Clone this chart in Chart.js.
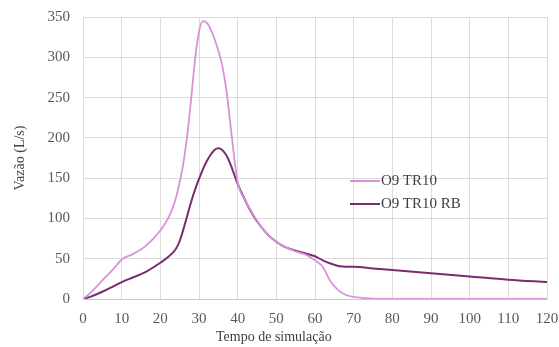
<!DOCTYPE html>
<html lang="pt">
<head>
    <meta charset="UTF-8">
    <title>Vazão - O9 TR10</title>
    <script src="https://cdn.jsdelivr.net/npm/chart.js"></script>
    <style>
        html, body { margin: 0; padding: 0; background: #fff; }
        .wrap { position: relative; width: 559px; height: 347px; font-family: "Liberation Serif", "DejaVu Serif", serif; }
        .legend { position: absolute; left: 350px; top: 169px; font-size: 15px; color: #404040; }
        .legend div { height: 23px; display: flex; align-items: center; }
        .legend span.swatch { display: inline-block; width: 30px; margin-right: 1px; }
        .xtitle { position: absolute; top: 329px; left: 216px; font-size: 14px; color: #404040; }
    </style>
</head>
<body>
    <div class="wrap">
        <canvas id="vazaoChart" width="559" height="347"></canvas>
        <div class="legend">
            <div><span class="swatch" style="border-top:2px solid #d892d8"></span>O9 TR10</div>
            <div><span class="swatch" style="border-top:2px solid #7a2d6e"></span>O9 TR10 RB</div>
        </div>
        <div class="xtitle">Tempo de simulação</div>
    </div>

    <script>
        // time (x) and flow values
        const tempoTR10 = [0, 2, 5, 8, 10, 13, 16, 20, 22, 23, 24, 25, 26, 27, 28, 29, 30, 31, 32, 33, 34, 35, 36, 37, 38, 39, 40, 42, 44, 46, 48, 50, 52, 55, 58, 60, 62, 64, 66, 68, 70, 75, 80, 90, 100, 110, 120];
        const vazaoTR10 = [0, 8, 23, 38, 49, 56, 65, 85, 100, 111, 125, 145, 170, 205, 250, 298, 332, 345, 343, 335, 323, 308, 290, 262, 222, 180, 145, 122, 105, 90, 79, 71, 65, 59, 54, 48, 40, 22, 11, 5, 2.5, 0.5, 0, 0, 0, 0, 0];

        const tempoRB = [0, 2, 5, 8, 10, 13, 16, 20, 22, 24, 25, 26, 27, 28, 29, 30, 31, 32, 33, 34, 35, 36, 37, 38, 39, 40, 42, 44, 46, 48, 50, 52, 55, 58, 60, 62, 64, 66, 68, 70, 75, 80, 90, 100, 110, 120];
        const vazaoRB = [0, 3, 9, 16, 21, 27, 33, 45, 52, 62, 72, 87, 104, 121, 136, 149, 161, 171, 179, 185, 187, 185, 179, 169, 156, 143, 122, 104, 90, 79, 71, 65, 60, 56, 53, 48, 44, 41, 40, 40, 38, 36, 32, 28, 24, 21];

        const xTicks = [0, 10, 20, 30, 40, 50, 60, 70, 80, 90, 100, 110, 120];
        const yTicks = [0, 50, 100, 150, 200, 250, 300, 350];

        function toPoints(xs, ys) {
            return xs.map((x, i) => ({ x: x, y: ys[i] }));
        }

        const tickFont = { family: 'Liberation Serif', size: 15 };
        const titleFont = { family: 'Liberation Serif', size: 14 };

        const ctx = document.getElementById('vazaoChart').getContext('2d');
        new Chart(ctx, {
            type: 'line',
            data: {
                datasets: [
                    {
                        label: 'O9 TR10',
                        data: toPoints(tempoTR10, vazaoTR10),
                        borderColor: '#d892d8',
                        borderWidth: 1.8,
                        pointRadius: 0,
                        cubicInterpolationMode: 'monotone',
                        fill: false
                    },
                    {
                        label: 'O9 TR10 RB',
                        data: toPoints(tempoRB, vazaoRB),
                        borderColor: '#7a2d6e',
                        borderWidth: 2,
                        pointRadius: 0,
                        cubicInterpolationMode: 'monotone',
                        fill: false
                    }
                ]
            },
            options: {
                responsive: false,
                animation: false,
                layout: { padding: { top: 17, right: 12, left: 12, bottom: 0 } },
                plugins: {
                    legend: { display: false },
                    tooltip: { enabled: false }
                },
                scales: {
                    x: {
                        type: 'linear',
                        min: 0,
                        max: 120,
                        afterBuildTicks: (scale) => { scale.ticks = xTicks.map(v => ({ value: v })); },
                        afterFit: (scale) => {
                            scale.height = 48;
                            scale.paddingRight = 0;
                            scale.paddingLeft = 0;
                        },
                        grid: { color: '#dcdcdc', drawTicks: false },
                        border: { color: '#c8c8c8' },
                        ticks: { padding: 11, color: '#595959', font: tickFont, maxRotation: 0 }
                    },
                    y: {
                        min: 0,
                        max: 350,
                        afterBuildTicks: (scale) => { scale.ticks = yTicks.map(v => ({ value: v })); },
                        afterFit: (scale) => {
                            scale.width = 71;
                            scale.paddingTop = 0;
                            scale.paddingBottom = 0;
                        },
                        grid: { color: '#dcdcdc', drawTicks: false },
                        border: { color: '#dcdcdc' },
                        ticks: { padding: 13, color: '#595959', font: tickFont },
                        title: { display: true, text: 'Vazão (L/s)', color: '#404040', font: titleFont, padding: { top: 0, bottom: 4 } }
                    }
                }
            }
        });
    </script>
</body>
</html>
